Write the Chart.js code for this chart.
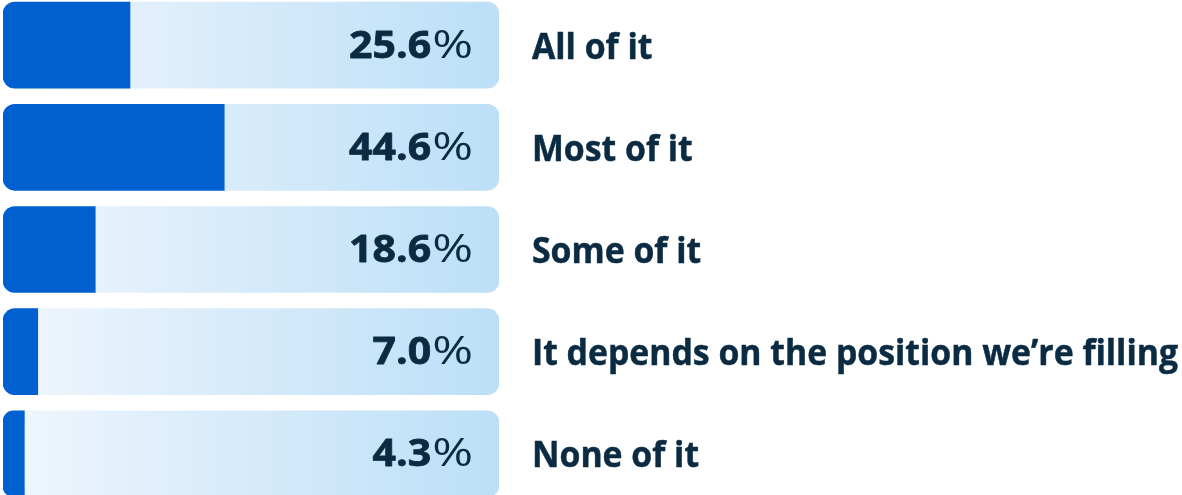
<!DOCTYPE html>
<html lang="en">
<head>
    <meta charset="UTF-8">
    <title>Share of the work</title>
    <script src="https://cdn.jsdelivr.net/npm/chart.js"></script>
    <style>
        html, body {
            margin: 0;
            padding: 0;
            background: #ffffff;
            overflow: hidden;
            width: 1182px;
            height: 495px;
        }
        .wrap {
            position: absolute;
            left: 0;
            top: -6px;
            width: 1182px;
            height: 511px;
        }
    </style>
</head>
<body>
    <div class="wrap">
        <canvas id="grafico"></canvas>
    </div>

    <script>
        const categorias = [
            "All of it",
            "Most of it",
            "Some of it",
            "It depends on the position we\u2019re filling",
            "None of it"
        ];
        const valores = [25.6, 44.6, 18.6, 7.0, 4.3];
        const trilha = categorias.map(() => 100);

        const corBarra = "#0060d0";
        const corTexto = "#0a2b42";

        // gradiente da trilha, da esquerda para a direita
        function fundoTrilha(context) {
            const area = context.chart.chartArea;
            if (!area) return "#d6e9f9";
            const g = context.chart.ctx.createLinearGradient(area.left, 0, area.right, 0);
            g.addColorStop(0, "#f0f6fd");
            g.addColorStop(1, "#bcdff7");
            return g;
        }

        function textoEsticado(ctx, txt, x, y, escala, traco) {
            ctx.save();
            ctx.translate(x, y);
            ctx.scale(escala, 1);
            ctx.fillText(txt, 0, 0);
            if (traco) {
                ctx.lineWidth = traco;
                ctx.lineJoin = "round";
                ctx.strokeText(txt, 0, 0);
            }
            ctx.restore();
        }

        const rotulos = {
            id: "rotulos",
            afterDatasetsDraw(chart) {
                const ctx = chart.ctx;
                const meta = chart.getDatasetMeta(0);
                ctx.save();
                ctx.fillStyle = corTexto;
                ctx.strokeStyle = corTexto;
                ctx.textBaseline = "alphabetic";
                ctx.textAlign = "left";

                // largura do rotulo mais longo ~648px
                ctx.font = "700 36px 'Open Sans'";
                const maisLongo = Math.max(...categorias.map(c => ctx.measureText(c).width));
                const escCat = Math.min(1, 646 / maisLongo);

                meta.data.forEach((bar, i) => {
                    // valor: numero em negrito + % normal
                    const yv = bar.y + 12.5;
                    const num = valores[i].toFixed(1);
                    ctx.font = "400 38px 'Open Sans'";
                    const escPct = 1.3;
                    const wPct = ctx.measureText("%").width * escPct;
                    const fimValor = 473;
                    textoEsticado(ctx, "%", fimValor - wPct, yv, escPct, 0);
                    ctx.font = "700 38px 'Open Sans'";
                    const escNum = 1.08;
                    const wNum = ctx.measureText(num).width * escNum;
                    textoEsticado(ctx, num, fimValor - wPct - wNum - 1, yv, escNum, 0.8);
                    // categoria
                    ctx.font = "700 36px 'Open Sans'";
                    textoEsticado(ctx, categorias[i], 532, bar.y + 13.5, escCat, 0.5);
                });
                ctx.restore();
            }
        };

        new Chart(document.getElementById("grafico"), {
            type: "bar",
            data: {
                labels: categorias,
                datasets: [
                    {
                        data: valores,
                        backgroundColor: corBarra,
                        borderSkipped: false,
                        borderRadius: { topLeft: 12, bottomLeft: 12, topRight: 0, bottomRight: 0 },
                        barThickness: 86,
                        grouped: false,
                        order: 0
                    },
                    {
                        data: trilha,
                        backgroundColor: fundoTrilha,
                        borderSkipped: false,
                        borderRadius: { topLeft: 12, bottomLeft: 12, topRight: 12, bottomRight: 12 },
                        barThickness: 86,
                        grouped: false,
                        order: 1
                    }
                ]
            },
            options: {
                indexAxis: "y",
                responsive: true,
                maintainAspectRatio: false,
                animation: false,
                layout: { padding: { left: 3, right: 683, top: 0, bottom: 0 } },
                plugins: {
                    legend: { display: false },
                    tooltip: { enabled: false }
                },
                scales: {
                    x: { display: false, min: 0, max: 100 },
                    y: { display: false }
                }
            },
            plugins: [rotulos]
        });
    </script>
</body>
</html>
